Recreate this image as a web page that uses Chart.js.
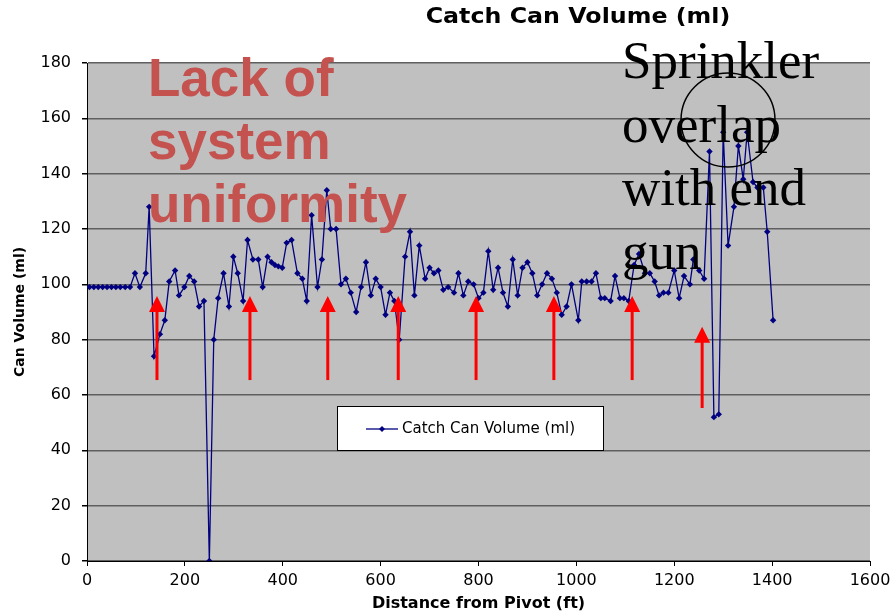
<!DOCTYPE html>
<html>
<head>
<meta charset="utf-8">
<script src="https://cdn.jsdelivr.net/npm/chart.js@4/dist/chart.umd.min.js"></script>
<style>
  html, body { margin: 0; padding: 0; background: #fff; }
  #wrap { width: 896px; height: 615px; }
</style>
</head>
<body>
<div id="wrap"><canvas id="chart1" width="896" height="615"></canvas></div>
<script>
// distance from pivot (ft)
const distanceFt = [
  5, 14, 23, 32, 41, 50, 59, 68, 78, 88,
  98, 108, 120, 127, 137, 149, 159, 168, 180, 188,
  199, 209, 219, 229, 239, 250, 259, 268, 279, 290,
  299, 308, 319, 328, 339, 350, 359, 369, 377, 384,
  391, 399, 408, 418, 430, 440, 449, 459, 471, 480,
  490, 498, 509, 519, 529, 539, 550, 560, 570, 580,
  590, 600, 610, 619, 628, 638, 650, 660, 669, 679,
  691, 700, 709, 718, 728, 738, 750, 759, 769, 779,
  790, 800, 810, 820, 830, 840, 850, 860, 870, 880,
  890, 900, 910, 920, 930, 940, 950, 960, 970, 980,
  990, 1004, 1011, 1021, 1031, 1040, 1050, 1058, 1070, 1079,
  1089, 1097, 1107, 1118, 1128, 1140, 1150, 1160, 1169, 1178,
  1188, 1200, 1210, 1220, 1232, 1239, 1251, 1261, 1272, 1281,
  1291, 1300, 1310, 1322, 1331, 1341, 1349, 1361, 1370, 1382,
  1390, 1402
];
// catch can volume (ml)
const canVolume = [
  99, 99, 99, 99, 99, 99, 99, 99, 99, 99,
  104, 99, 104, 128, 74, 82, 87, 101, 105, 96,
  99, 103, 101, 92, 94, 0, 80, 95, 104, 92,
  110, 104, 94, 116, 109, 109, 99, 110, 108, 107,
  106.5, 106, 115, 116, 104, 102, 94, 125, 99, 109,
  134, 120, 120, 100, 102, 97, 90, 99, 108, 96,
  102, 99, 89, 97, 94, 80, 110, 119, 96, 114,
  102, 106, 104, 105, 98, 99, 97, 104, 96, 101,
  100, 95, 97, 112, 98, 106, 97, 92, 109, 96,
  106, 108, 104, 96, 100, 104, 102, 97, 89, 92,
  100, 87, 101, 101, 101, 104, 95, 95, 94, 103,
  95, 95, 94, 107, 111, 104, 104, 101, 96, 97,
  97, 105, 95, 103, 100, 109, 105, 102, 148, 52,
  53, 155, 114, 128, 150, 138, 155, 137, 135, 135,
  119, 87
];

const seriesName = "Catch Can Volume (ml)";
const xTicks = [0, 200, 400, 600, 800, 1000, 1200, 1400, 1600];
const yTicks = [0, 20, 40, 60, 80, 100, 120, 140, 160, 180];

// red arrows (ft, tip ml, tail ml)
const arrowFt = [143, 333, 492, 636, 795, 954, 1114, 1257];
const arrowTip = [95.8, 95.8, 95.8, 95.8, 95.8, 95.8, 95.8, 84.7];
const arrowTail = [65.4, 65.4, 65.4, 65.4, 65.4, 65.4, 65.4, 55.3];

const leftNote = ["Lack of", "system", "uniformity"];
const rightNote = ["Sprinkler", "overlap", "with end", "gun"];

const plotBg = {
  id: "plotBg",
  beforeDraw(chart) {
    const { ctx, chartArea: a } = chart;
    ctx.save();
    ctx.fillStyle = "#C0C0C0";
    ctx.fillRect(a.left, a.top, a.right - a.left, a.bottom - a.top);
    ctx.restore();
  },
};

const extras = {
  id: "extras",
  afterDraw(chart) {
    const ctx = chart.ctx;
    const xs = chart.scales.x, ys = chart.scales.y;
    ctx.save();

    // title
    ctx.fillStyle = "#000";
    ctx.font = "bold 21px 'DejaVu Sans'";
    ctx.textAlign = "center";
    ctx.textBaseline = "middle";
    ctx.save();
    ctx.translate(578, 18);
    ctx.scale(1.13, 1);
    ctx.fillText(seriesName, 0, 0);
    ctx.restore();

    // legend box
    ctx.fillStyle = "#fff";
    ctx.fillRect(337, 406, 266, 44);
    ctx.strokeStyle = "#000";
    ctx.lineWidth = 1;
    ctx.strokeRect(337.5, 406.5, 266, 44);
    ctx.strokeStyle = "#000080";
    ctx.lineWidth = 1.3;
    ctx.beginPath();
    ctx.moveTo(366, 429);
    ctx.lineTo(398, 429);
    ctx.stroke();
    ctx.fillStyle = "#000080";
    ctx.beginPath();
    ctx.moveTo(382, 426); ctx.lineTo(385, 429); ctx.lineTo(382, 432); ctx.lineTo(379, 429);
    ctx.closePath();
    ctx.fill();
    ctx.fillStyle = "#000";
    ctx.font = "15px 'DejaVu Sans'";
    ctx.textAlign = "left";
    ctx.fillText(seriesName, 402, 429);

    // red notes
    ctx.fillStyle = "#C4524F";
    ctx.font = "bold 53px 'Liberation Sans'";
    ctx.textBaseline = "alphabetic";
    leftNote.forEach((t, i) => ctx.fillText(t, 148, 96 + i * 63));

    // black notes
    ctx.fillStyle = "#000";
    ctx.font = "53px 'Liberation Serif'";
    rightNote.forEach((t, i) => ctx.fillText(t, 622, 78 + i * 63.5));

    // circle
    ctx.strokeStyle = "#000";
    ctx.lineWidth = 1.5;
    ctx.beginPath();
    ctx.arc(728, 120, 47, 0, Math.PI * 2);
    ctx.stroke();

    // arrows
    ctx.fillStyle = "#FF0000";
    ctx.strokeStyle = "#FF0000";
    arrowFt.forEach((ft, i) => {
      const x = xs.getPixelForValue(ft);
      const yt = ys.getPixelForValue(arrowTip[i]);
      const yb = ys.getPixelForValue(arrowTail[i]);
      ctx.lineWidth = 3;
      ctx.beginPath();
      ctx.moveTo(x, yb);
      ctx.lineTo(x, yt + 14);
      ctx.stroke();
      ctx.beginPath();
      ctx.moveTo(x, yt);
      ctx.lineTo(x + 8, yt + 16);
      ctx.lineTo(x - 8, yt + 16);
      ctx.closePath();
      ctx.fill();
    });
    ctx.restore();
  },
};

const points = distanceFt.map((d, i) => ({ x: d, y: canVolume[i] }));

new Chart(document.getElementById("chart1").getContext("2d"), {
  type: "line",
  data: {
    datasets: [
      {
        label: seriesName,
        data: points,
        borderColor: "#000080",
        backgroundColor: "#000080",
        borderWidth: 1.3,
        pointStyle: "rectRot",
        pointRadius: 3.2,
        pointBorderWidth: 0,
        tension: 0,
      },
    ],
  },
  options: {
    responsive: false,
    animation: false,
    layout: { padding: { top: 63, right: 26, left: 0, bottom: 0 } },
    plugins: { legend: { display: false }, title: { display: false }, tooltip: { enabled: false } },
    scales: {
      x: {
        type: "linear",
        min: 0,
        max: 1600,
        afterBuildTicks: (s) => { s.ticks = xTicks.map((v) => ({ value: v })); },
        afterFit: (s) => { s.height = 54; },
        grid: { drawOnChartArea: false, drawTicks: true, tickLength: 5, tickColor: "#000" },
        border: { color: "#000", width: 1 },
        ticks: {
          color: "#000",
          padding: 5,
          maxRotation: 0,
          callback: (v) => String(v),
          font: { family: "DejaVu Sans", size: 16 },
        },
        title: {
          display: true,
          text: "Distance from Pivot (ft)",
          color: "#000",
          padding: { bottom: 2 },
          font: { family: "DejaVu Sans", size: 16, weight: "bold" },
        },
      },
      y: {
        min: 0,
        max: 180,
        afterBuildTicks: (s) => { s.ticks = yTicks.map((v) => ({ value: v })); },
        afterFit: (s) => { s.width = 87; },
        grid: { color: "#5f5f5f", lineWidth: 1.5, tickLength: 5, tickColor: "#000" },
        border: { color: "#000", width: 1 },
        ticks: {
          color: "#000",
          padding: 11,
          callback: (v) => String(v),
          font: { family: "DejaVu Sans", size: 16 },
        },
        title: {
          display: true,
          text: "Can Volume (ml)",
          color: "#000",
          padding: { top: 12 },
          font: { family: "DejaVu Sans", size: 14, weight: "bold" },
        },
      },
    },
  },
  plugins: [plotBg, extras],
});
</script>
</body>
</html>
